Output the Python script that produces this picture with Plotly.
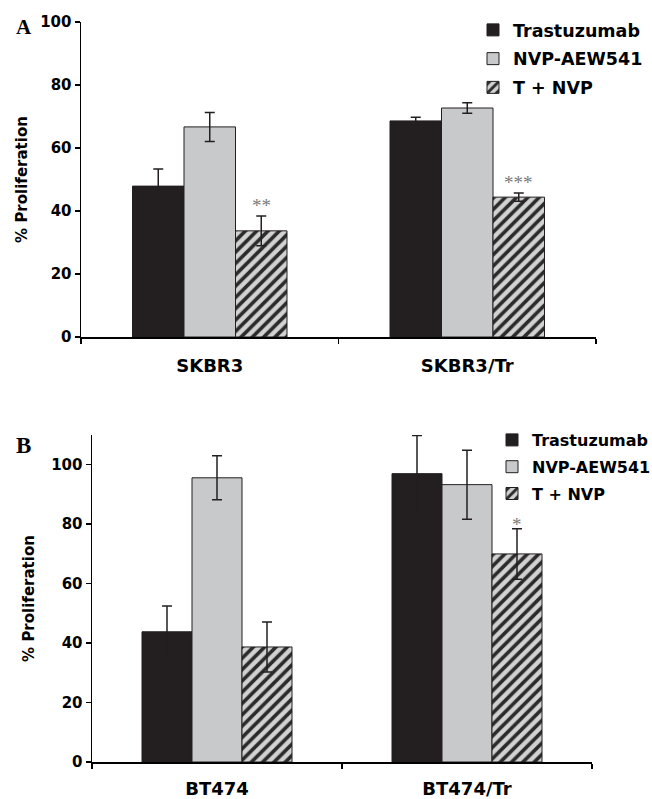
import plotly.graph_objects as go

# ---------------- data ----------------
series_names = ["Trastuzumab", "NVP-AEW541", "T + NVP"]

cats_a = ["SKBR3", "SKBR3/Tr"]
trast_a = [47.9, 68.6]
trast_a_err = [5.4, 1.2]
nvp_a = [66.7, 72.7]
nvp_a_err = [4.6, 1.7]
combo_a = [33.7, 44.4]
combo_a_err = [4.7, 1.3]
sig_a = ["**", "***"]

cats_b = ["BT474", "BT474/Tr"]
trast_b = [43.8, 97.0]
trast_b_err = [8.7, 12.8]
nvp_b = [95.6, 93.3]
nvp_b_err = [7.4, 11.6]
combo_b = [38.7, 70.0]
combo_b_err = [8.4, 8.5]
sig_b = ["", "*"]

yticks_a = [0, 20, 40, 60, 80, 100]
yticks_b = [0, 20, 40, 60, 80, 100]

# ---------------- styles ----------------
W, H = 652, 799
FONT = "DejaVu Sans"
BLACK = "#231f20"
GRAY = "#c8c9cb"
HATCH_FG = "#2b2b2b"
HATCH_BG = "#d2d2d2"


def px(x):
    """page pixel x -> paper fraction"""
    return x / W


def py(y):
    """page pixel y -> paper fraction"""
    return 1 - y / H


fig = go.Figure()


def add_panel(cats, vals, errs, xa, ya, legend_name):
    styles = [
        dict(color=BLACK),
        dict(color=GRAY),
        dict(color=HATCH_BG,
             pattern=dict(shape="/", fgcolor=HATCH_FG, bgcolor=HATCH_BG,
                          fillmode="replace", size=8, solidity=0.45)),
    ]
    for name, v, e, st in zip(series_names, vals, errs, styles):
        fig.add_trace(go.Bar(
            x=cats, y=v, name=name,
            marker=dict(line=dict(color=BLACK, width=1), **st),
            error_y=dict(type="data", array=e, visible=True,
                         color=BLACK, thickness=1.5, width=5),
            xaxis=xa, yaxis=ya, legend=legend_name, legendgroup=name + legend_name,
        ))


add_panel(cats_a, [trast_a, nvp_a, combo_a],
          [trast_a_err, nvp_a_err, combo_a_err], "x", "y", "legend")
add_panel(cats_b, [trast_b, nvp_b, combo_b],
          [trast_b_err, nvp_b_err, combo_b_err], "x2", "y2", "legend2")

# significance markers above the combination bars
STAR_FONT = dict(family="Liberation Serif", size=19, color="#7a7a7a")
for i, (s, v, e) in enumerate(zip(sig_a, combo_a, combo_a_err)):
    if s:
        fig.add_annotation(x=i + 0.2, y=v + e, xref="x", yref="y", text=s,
                           showarrow=False, yanchor="bottom", yshift=-2,
                           font=STAR_FONT)
for i, (s, v, e) in enumerate(zip(sig_b, combo_b, combo_b_err)):
    if s:
        fig.add_annotation(x=i + 0.2, y=v + e, xref="x2", yref="y2", text=s,
                           showarrow=False, yanchor="bottom", yshift=-8,
                           font=STAR_FONT)

# panel letters
fig.add_annotation(x=px(24), y=py(27), xref="paper", yref="paper", text="<b>A</b>",
                   xanchor="center", yanchor="middle", showarrow=False,
                   font=dict(family="Liberation Serif", size=21, color="black"))
fig.add_annotation(x=px(23), y=py(445), xref="paper", yref="paper", text="<b>B</b>",
                   xanchor="center", yanchor="middle", showarrow=False,
                   font=dict(family="Liberation Serif", size=23, color="black"))

xaxis_common = dict(
    type="category", tickson="boundaries", ticks="outside", ticklen=5,
    tickwidth=1.5, tickcolor="black", showline=True, linecolor="black",
    linewidth=1.5, showgrid=False, zeroline=False,
    tickfont=dict(family=FONT, size=18, color="black", weight="bold"),
    fixedrange=True, automargin=False,
)
yaxis_common = dict(
    ticks="outside", ticklen=5, tickwidth=1.5, tickcolor="black",
    showline=True, linecolor="black", linewidth=1.5, showgrid=False,
    zeroline=False,
    tickfont=dict(family=FONT, size=15, color="black", weight="bold"),
    automargin=False,
)
TITLE_FONT = dict(family=FONT, size=15, color="black", weight="bold")

fig.update_layout(
    template="none",
    width=W, height=H,
    margin=dict(l=0, r=0, t=0, b=0, autoexpand=False),
    paper_bgcolor="white", plot_bgcolor="white",
    barmode="group", bargap=0.4, bargroupgap=0,
    showlegend=True,
    xaxis=dict(domain=[px(81), px(596)], anchor="y", ticklabelstandoff=12,
               **xaxis_common),
    yaxis=dict(domain=[py(337), py(22)], anchor="x", range=[0, 100],
               tickvals=yticks_a,
               title=dict(text="% Proliferation", standoff=9, font=TITLE_FONT),
               **yaxis_common),
    xaxis2=dict(domain=[px(92), px(592)], anchor="y2", ticklabelstandoff=10,
                **xaxis_common),
    yaxis2=dict(domain=[py(762), py(435)], anchor="x2", range=[0, 110],
                tickvals=yticks_b,
                title=dict(text="% Proliferation", standoff=13, font=TITLE_FONT),
                **yaxis_common),
    legend=dict(x=px(473), y=py(12), xanchor="left", yanchor="top",
                font=dict(family=FONT, size=17.5, color="black", weight="bold"),
                bgcolor="rgba(0,0,0,0)", tracegroupgap=3),
    legend2=dict(x=px(492), y=py(423), xanchor="left", yanchor="top",
                 font=dict(family=FONT, size=16, color="black", weight="bold"),
                 bgcolor="rgba(0,0,0,0)", tracegroupgap=3),
)

# remove the browser's default body margin so the figure fills the window
fig.write_html("out.html",
               config={"displayModeBar": False, "staticPlot": True},
               post_script="document.body.style.margin='0';document.body.style.overflow='hidden';")
